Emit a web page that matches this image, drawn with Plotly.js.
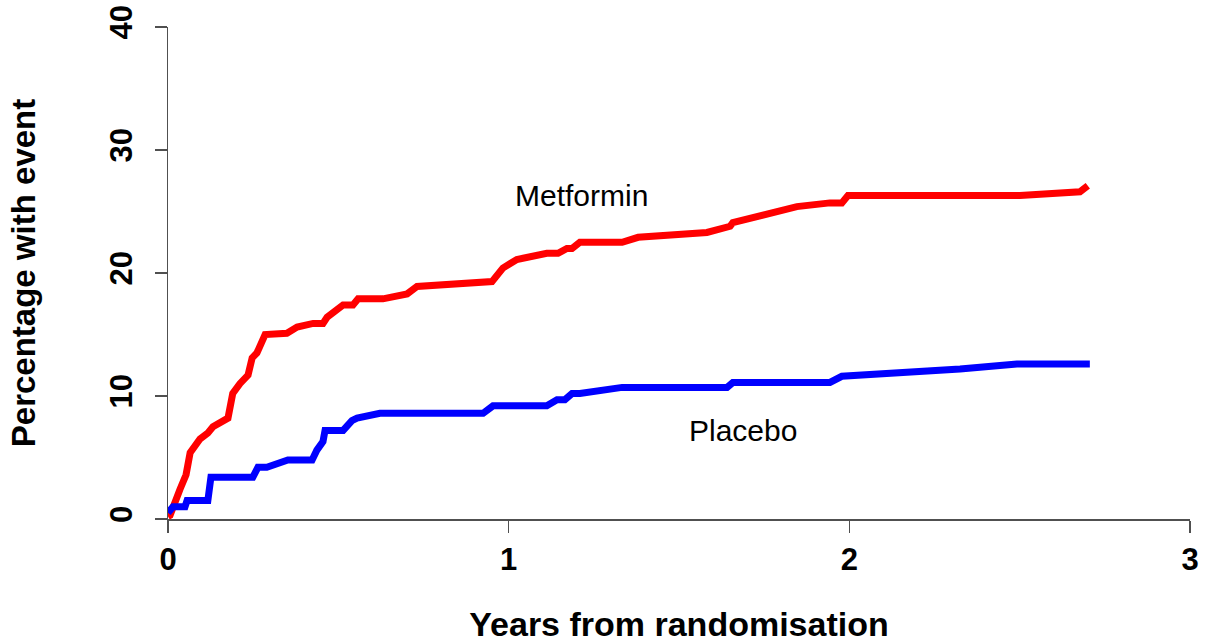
<!DOCTYPE html>
<html>
<head>
<meta charset="utf-8">
<script src="https://cdn.plot.ly/plotly-3.0.1.min.js"></script>
<style>
html,body{margin:0;padding:0;background:#fff;}
#chart{width:1207px;height:643px;}
</style>
</head>
<body>
<div id="chart"></div>
<script>
// Metformin cumulative percentage with event
const metforminYears = [0, 0.006, 0.035, 0.053, 0.065, 0.094, 0.117, 0.132, 0.176, 0.190, 0.211, 0.235, 0.247, 0.261, 0.285, 0.349, 0.379, 0.426, 0.455, 0.467, 0.514, 0.543, 0.558, 0.631, 0.702, 0.731, 0.951, 0.983, 1.024, 1.112, 1.145, 1.171, 1.186, 1.209, 1.333, 1.380, 1.582, 1.650, 1.658, 1.788, 1.846, 1.943, 1.978, 1.996, 2.501, 2.677, 2.700];
const metforminPct   = [0.2, 0.3, 2.4, 3.6, 5.4, 6.5, 7.0, 7.5, 8.2, 10.2, 11.0, 11.7, 13.1, 13.5, 15.0, 15.1, 15.6, 15.9, 15.9, 16.4, 17.4, 17.4, 17.9, 17.9, 18.3, 18.9, 19.3, 20.4, 21.1, 21.6, 21.6, 22.0, 22.0, 22.5, 22.5, 22.9, 23.3, 23.8, 24.1, 24.9, 25.4, 25.7, 25.7, 26.3, 26.3, 26.6, 27.1];

// Placebo cumulative percentage with event
const placeboYears = [0, 0.015, 0.050, 0.056, 0.117, 0.126, 0.249, 0.264, 0.290, 0.352, 0.423, 0.437, 0.455, 0.461, 0.514, 0.540, 0.555, 0.622, 0.925, 0.954, 1.112, 1.142, 1.165, 1.186, 1.209, 1.333, 1.641, 1.658, 1.943, 1.978, 2.325, 2.492, 2.706];
const placeboPct   = [0.5, 1.0, 1.0, 1.5, 1.5, 3.4, 3.4, 4.2, 4.2, 4.8, 4.8, 5.6, 6.3, 7.2, 7.2, 8.0, 8.2, 8.6, 8.6, 9.2, 9.2, 9.7, 9.7, 10.2, 10.2, 10.7, 10.7, 11.1, 11.1, 11.6, 12.2, 12.6, 12.6];

const seriesNames = ["Metformin", "Placebo"];
const xTickVals = [0, 1, 2, 3];
const yTickVals = [0, 10, 20, 30, 40];

const FONT = "Liberation Sans, Arial, Helvetica, sans-serif";
const AXC = "#505050";

const traces = [
  {x: metforminYears, y: metforminPct, name: seriesNames[0], mode: "lines",
   line: {color: "#ff0000", width: 7}, hoverinfo: "x+y"},
  {x: placeboYears, y: placeboPct, name: seriesNames[1], mode: "lines",
   line: {color: "#0000ff", width: 7}, hoverinfo: "x+y"}
];

const layout = {
  width: 1207, height: 643, autosize: false,
  margin: {l: 168, r: 17, t: 27, b: 124},
  paper_bgcolor: "#fff", plot_bgcolor: "#fff",
  showlegend: false,
  font: {family: FONT, color: "#000"},
  xaxis: {
    range: [0, 3], tickvals: xTickVals, ticktext: xTickVals.map(String),
    showgrid: false, zeroline: false, showline: true, linecolor: AXC, linewidth: 1.5,
    ticks: "outside", ticklen: 12, tickwidth: 1.5, tickcolor: AXC,
    tickfont: {family: FONT, size: 31, color: "#000", weight: "bold"},
    title: {text: "<b>Years from randomisation</b>", font: {family: FONT, size: 34, color: "#000"}, standoff: 36}
  },
  yaxis: {
    range: [0, 40], tickvals: yTickVals, ticktext: yTickVals.map(String),
    showgrid: false, zeroline: false, showline: true, linecolor: AXC, linewidth: 1.5,
    ticks: "outside", ticklen: 12, tickwidth: 1.5, tickcolor: AXC, tickangle: -90,
    ticklabelstandoff: 10,
    tickfont: {family: FONT, size: 31, color: "#000", weight: "bold"},
    title: {text: "<b>Percentage with event</b>", font: {family: FONT, size: 33, color: "#000"}, standoff: 58}
  },
  annotations: [
    {x: 1.215, y: 26.3, xref: "x", yref: "y", text: seriesNames[0], showarrow: false,
     font: {family: FONT, size: 30, color: "#000"}},
    {x: 1.688, y: 7.2, xref: "x", yref: "y", text: seriesNames[1], showarrow: false,
     font: {family: FONT, size: 30, color: "#000"}}
  ]
};

Plotly.newPlot("chart", traces, layout, {staticPlot: true, displayModeBar: false});
</script>
</body>
</html>
